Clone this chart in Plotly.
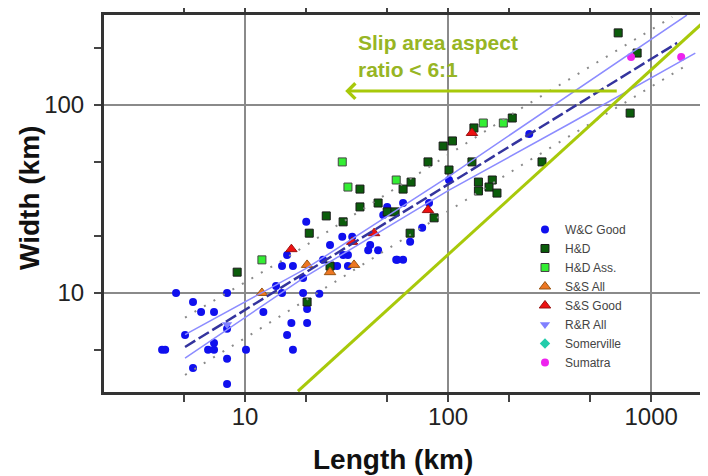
import plotly.graph_objects as go

# W&C Good
wc_len = [4.57, 5.54, 6.07, 7.03, 8.15, 8.15, 5.06, 7.03, 6.57, 7.03, 3.90, 4.04, 8.15, 10.1,
          5.54, 8.15, 12.3, 14.2, 15.2, 15.2, 16.1, 17.2, 19.3, 19.3, 20.2, 20.2, 16.9, 16.1,
          17.2, 23.2, 20.0, 26.2, 24.2, 27.1, 28.4, 30.1, 33.7, 32.1, 32.1, 41.3, 40.4, 45.2,
          55.5, 47.9, 50.1, 60.0, 56.1, 60.0, 74.5, 65.0, 80.5, 101, 251, 30.4]
wc_wid = [10.0, 8.95, 7.92, 7.92, 10.0, 6.44, 5.98, 5.42, 4.98, 4.98, 4.98, 4.98, 4.46, 4.98,
          3.99, 3.28, 7.92, 10.9, 10.0, 13.9, 15.9, 13.9, 12.0, 10.0, 8.22, 6.92, 6.92, 5.98,
          4.98, 9.9, 23.9, 18.0, 15.0, 13.9, 13.9, 19.9, 19.9, 15.9, 13.9, 18.0, 16.9, 16.9,
          15.0, 26.0, 28.7, 30.1, 15.0, 15.0, 22.2, 18.7, 30.1, 39.9, 70.1, 15.9]

# H&D
hd_len = [9.14, 25.1, 30.4, 20.7, 26.2, 20.2, 36.8, 36.8, 45.2, 50.1, 54.8, 60.0, 65.7, 79.6,
          94.5, 105, 101, 131, 134, 207, 85.3, 65.0, 141, 141, 165, 159, 174, 290, 688, 853, 788]
hd_wid = [12.9, 25.7, 23.9, 20.8, 13.9, 8.95, 35.7, 28.7, 30.1, 27.0, 27.0, 35.7, 38.9, 49.8,
          60.5, 64.4, 45.1, 49.8, 75.5, 85.3, 25.1, 20.8, 38.9, 34.9, 39.9, 36.6, 34.0, 49.8,
          242, 189, 90.6]

# H&D Ass.
hda_len = [12.1, 30.1, 32.1, 55.5, 149, 187]
hda_wid = [15.0, 49.8, 36.6, 39.9, 80.2, 80.2]

# S&S All
ssa_len = [12.1, 20.2, 26.2, 34.4]
ssa_wid = [10.0, 14.1, 12.9, 14.1]

# S&S Good
ssg_len = [16.9, 33.7, 43.2, 79.6, 131]
ssg_wid = [17.1, 18.7, 20.8, 27.6, 71.0]

# R&R All, Somerville (hardly visible)
rr_len = [8.15]
rr_wid = [6.8]
som_len = [None]
som_wid = [None]

# Sumatra
sum_len = [796, 1406]
sum_wid = [180, 180]

# regression line, confidence and prediction bounds
fit_len = [5.06, 1343]
fit_wid = [5.16, 214]
cu_len = [5.06, 20, 100, 400, 1500]
cu_wid = [6.0, 13.5, 41.5, 114, 301]
cl_len = [5.06, 20, 100, 400, 1650]
cl_wid = [4.5, 12.3, 35.0, 80, 189]
pu_len = [5.06, 15.4, 234, 1270]
pu_wid = [7.4, 15.0, 97.5, 294]
pl_len = [5.06, 10.9, 239, 1556]
pl_wid = [3.66, 6.1, 49.1, 167]

# aspect ratio 6:1 line
asp_len = [18.2, 1905]
asp_wid = [3.0, 290]

FONT = "Liberation Sans, Arial, sans-serif"
LIME = "#a8c90a"

fig = go.Figure()

def pts(name, xs, ys, symbol, color, size, outline=None):
    fig.add_trace(go.Scatter(
        x=xs, y=ys, mode="markers", name=name,
        marker=dict(symbol=symbol, color=color, size=size,
                    line=dict(color=outline or color, width=1 if outline else 0))))

pts("W&C Good", wc_len, wc_wid, "circle", "#1010ee", 8)
pts("H&D", hd_len, hd_wid, "square", "#0b5d0b", 8, "#1a1a1a")
pts("H&D Ass.", hda_len, hda_wid, "square", "#33ee33", 8, "#444444")
pts("S&S All", ssa_len, ssa_wid, "triangle-up", "#ee7722", 10, "#995511")
pts("S&S Good", ssg_len, ssg_wid, "triangle-up", "#ee1111", 10, "#991111")
pts("R&R All", rr_len, rr_wid, "triangle-down", "#8080ff", 9)
pts("Somerville", som_len, som_wid, "diamond", "#22ccaa", 8)
pts("Sumatra", sum_len, sum_wid, "circle", "#ee22ee", 8)

def line(xs, ys, color, width, dash="solid"):
    fig.add_trace(go.Scatter(x=xs, y=ys, mode="lines", showlegend=False, hoverinfo="skip",
                             line=dict(color=color, width=width, dash=dash)))

line(pu_len, pu_wid, "#8a8a8a", 2, "2px,9px")
line(pl_len, pl_wid, "#8a8a8a", 2, "2px,9px")
line(cu_len, cu_wid, "#8c8cff", 1.5)
line(cl_len, cl_wid, "#8c8cff", 1.5)
line(fit_len, fit_wid, "#34349e", 2.5, "12px,4px")
line(asp_len, asp_wid, LIME, 3)

fig.update_xaxes(
    type="log", range=[0.305, 3.28], showline=True, linewidth=3, linecolor="#333333",
    mirror="ticks", ticks="outside", ticklen=7, tickwidth=1.5, tickcolor="#444444",
    tickvals=[10, 100, 1000], ticktext=["10", "100", "1000"], ticklabelstandoff=-6,
    showgrid=True, gridcolor="#8a8a8a", gridwidth=2, zeroline=False, automargin=False,
    tickfont=dict(family=FONT, size=24, color="#222222"),
    minor=dict(tickvals=[2, 5, 20, 50, 200, 500], ticks="outside", ticklen=7,
               tickwidth=1.5, tickcolor="#444444", showgrid=False))
fig.update_yaxes(
    type="log", range=[0.473, 2.479], showline=True, linewidth=3, linecolor="#333333",
    ticks="outside", ticklen=7, tickwidth=1.5, tickcolor="#444444",
    tickvals=[10, 100], ticktext=["10", "100"], ticklabelstandoff=5,
    showgrid=True, gridcolor="#8a8a8a", gridwidth=2, zeroline=False, automargin=False,
    tickfont=dict(family=FONT, size=24, color="#222222"),
    minor=dict(tickvals=[5, 20, 50, 200], ticks="outside", ticklen=7,
               tickwidth=1.5, tickcolor="#444444", showgrid=False))

fig.add_annotation(xref="paper", yref="paper", x=0.4785, y=-0.18, xanchor="center",
                   yanchor="middle", text="<b>Length (km)</b>", showarrow=False,
                   font=dict(family=FONT, size=28, color="#111111"))
fig.add_annotation(xref="paper", yref="paper", x=-0.1225, y=0.5146, xanchor="center",
                   yanchor="middle", text="<b>Width (km)</b>", textangle=-90, showarrow=False,
                   font=dict(family=FONT, size=28, color="#111111"))
fig.add_annotation(xref="paper", yref="paper", x=0.417, y=0.962, xanchor="left", yanchor="top",
                   align="left", text="<b>Slip area aspect<br>ratio &lt; 6:1</b>", showarrow=False,
                   font=dict(family=FONT, size=21, color="#97b524"))
fig.add_annotation(x=1.493, y=2.074, ax=2.838, ay=2.074, xref="x", yref="y", axref="x", ayref="y",
                   text="", showarrow=True, arrowhead=4, arrowsize=1, arrowwidth=3,
                   arrowcolor=LIME, standoff=0)

# the page puts the figure 8px in from the top-left corner
fig.update_layout(
    width=708, height=476, margin=dict(l=96, r=8, t=7, b=92),
    plot_bgcolor="white", paper_bgcolor="white",
    font=dict(family=FONT),
    legend=dict(x=0.697, y=0.4695, xanchor="left", yanchor="top", bgcolor="rgba(0,0,0,0)",
                font=dict(family=FONT, size=12, color="#444444"), itemwidth=30),
)

fig.write_html("out.html")
